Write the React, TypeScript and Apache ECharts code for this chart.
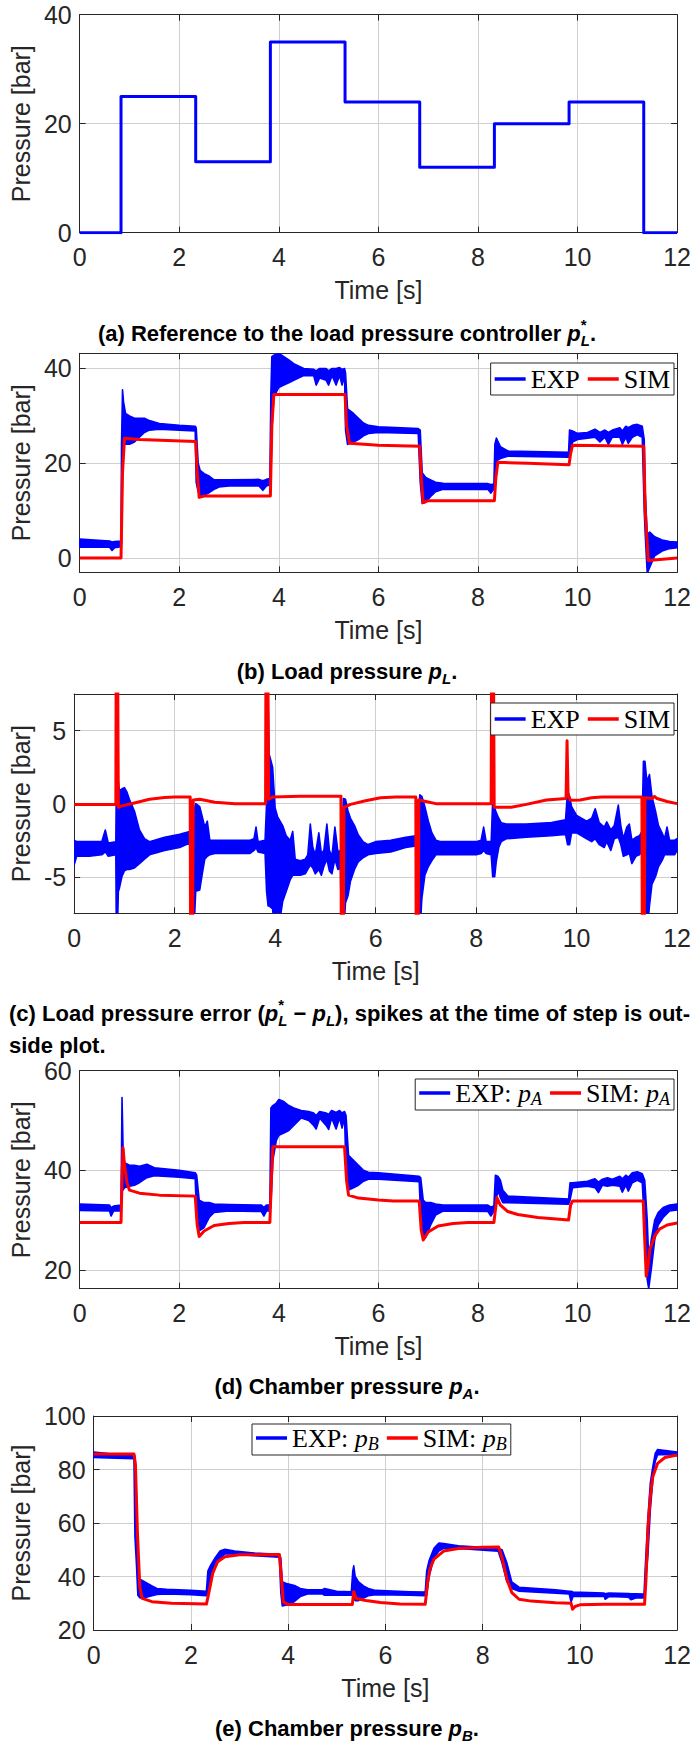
import React, { useEffect, useRef } from "react";
import * as echarts from "echarts";

const BLUE = "#0000ff";
const RED = "#ff0000";
const TXT = "#262626";
const GRIDC = "#cfcfcf";
const FONT = "'Liberation Sans', Arial, sans-serif";
const SERIF = "'Liberation Serif', 'Times New Roman', serif";

// ---------- axis ticks ----------
const timeTicks = [0, 2, 4, 6, 8, 10, 12];
const yTicksA = [0, 20, 40];
const yTicksB = [0, 20, 40];
const yTicksC = [-5, 0, 5];
const yTicksD = [20, 40, 60];
const yTicksE = [20, 40, 60, 80, 100];

// ---------- (a) reference ----------
const refT = [0, 0.83, 2.33, 3.83, 5.33, 6.83, 8.33, 9.83, 11.33, 12];
const refV = [0, 25, 13, 35, 24, 12, 20, 24, 0, 0];

// ---------- (b) load pressure ----------
const simBT = [0, 0.83, 0.86, 0.9, 1.2, 2.33, 2.36, 2.4, 2.5, 3.83, 3.86, 3.9, 5.33, 5.36, 5.42, 6.0, 6.83, 6.86, 6.9, 7.0, 8.33, 8.36, 8.4, 9.0, 9.83, 9.86, 9.9, 11.33, 11.36, 11.42, 12];
const simBV = [0, 0, 18, 25.3, 25.0, 24.6, 18, 12.8, 13.1, 13.1, 28, 34.5, 34.5, 28, 24.2, 23.8, 23.6, 17, 11.7, 12.1, 12.1, 17, 20.2, 20.0, 19.7, 22, 23.8, 23.6, 10, -0.5, 0];
const expBT = [0, 0.6, 0.65, 0.7, 0.83, 0.84, 0.86, 0.88, 0.92, 1.0, 1.1, 1.2, 1.3, 1.4, 1.6, 2.0, 2.32, 2.34, 2.38, 2.42, 2.5, 2.6, 2.7, 2.8, 3.0, 3.6, 3.68, 3.75, 3.82, 3.84, 3.86, 3.9, 4.0, 4.1, 4.2, 4.3, 4.5, 4.7, 4.75, 4.82, 4.95, 5.0, 5.07, 5.15, 5.22, 5.27, 5.32, 5.34, 5.38, 5.5, 5.6, 5.7, 5.8, 6.0, 6.8, 6.84, 6.88, 6.95, 7.05, 7.15, 7.3, 8.2, 8.26, 8.32, 8.34, 8.37, 8.45, 8.6, 9.82, 9.84, 9.9, 10.0, 10.2, 10.35, 10.45, 10.55, 10.62, 10.7, 10.85, 10.9, 10.97, 11.02, 11.1, 11.2, 11.3, 11.34, 11.36, 11.4, 11.45, 11.55, 11.7, 11.85, 12];
const expBLo = [2.3, 2.3, 1.6, 2.2, 2.4, 3.0, 24, 24, 24, 24, 24.5, 25.5, 26.5, 27, 27.2, 27, 26.8, 16, 14, 13, 13.3, 13.8, 14.5, 15, 15.2, 15.2, 14.3, 15.2, 15.4, 16, 27, 34, 36, 36.5, 37, 37.5, 38.5, 38.5, 36.5, 38, 37.5, 36.5, 38.5, 36.5, 38.5, 36.5, 38.5, 27, 24, 24.5, 25, 25.8, 26.3, 26.5, 26.3, 16, 11.5, 11.8, 13, 14, 14.5, 14.5, 13.7, 14.6, 16, 20.5, 21, 21.5, 21.3, 22, 24.5, 25, 25.3, 25.5, 24.5, 25.5, 24, 25.5, 25.5, 24, 25.5, 24.2, 25.5, 26, 25.5, 10, 5, -3.2, -2, 0.5, 1.5, 2, 2.2];
const expBHi = [4.0, 3.6, 3.4, 3.5, 3.6, 24, 35.5, 33, 30.5, 30, 29.5, 29.5, 29.5, 29, 28.4, 28, 27.8, 27.5, 20, 18.5, 17.8, 17.3, 16.5, 16.5, 16.5, 16.6, 16.3, 16.6, 16.8, 35, 42.5, 42.8, 43.2, 42.5, 41.8, 41, 40, 39.8, 39.5, 40, 40, 39.5, 40, 40, 40.2, 39.8, 40, 39, 31.5, 30.5, 29.5, 28.5, 28, 27.7, 27.3, 27, 18, 17, 16.5, 16, 15.8, 15.7, 15.5, 15.6, 24, 25.3, 23.5, 22.6, 22.3, 27, 26.8, 26.3, 26.5, 27.2, 26.5, 27, 26.5, 27, 27.5, 26.8, 27.8, 27.5, 28, 28.2, 27.8, 25, 13.8, 5, 5.5, 4.5, 3.8, 3.5, 3.4];

// ---------- (c) load pressure error ----------
const simCT = [0, 0.83, 0.84, 0.86, 0.88, 0.95, 1.2, 1.5, 1.8, 2.0, 2.31, 2.32, 2.35, 2.37, 2.5, 2.8, 3.2, 3.81, 3.82, 3.85, 3.87, 3.95, 4.5, 5.31, 5.32, 5.35, 5.37, 5.5, 5.8, 6.1, 6.4, 6.8, 6.81, 6.84, 6.86, 7.0, 7.2, 8.3, 8.31, 8.34, 8.36, 8.7, 9.0, 9.4, 9.79, 9.81, 9.83, 9.88, 10.07, 10.3, 10.5, 11.3, 11.31, 11.34, 11.36, 11.5, 11.55, 11.6, 11.8, 12];
const simCV = [-0.05, -0.05, 14, 14, -0.25, -0.15, 0.05, 0.3, 0.42, 0.45, 0.45, -14, -14, 0.25, 0.3, 0.1, 0, 0, 14, 14, 0.3, 0.45, 0.5, 0.5, -14, -14, -0.25, -0.05, 0.2, 0.4, 0.45, 0.45, -14, -14, 0.25, 0.15, 0, 0, 14, 14, -0.25, -0.25, -0.05, 0.25, 0.35, 4.3, 0.6, 0.23, 0.25, 0.4, 0.45, 0.45, -14, -14, 0.4, 0.35, 0.5, 0.35, 0.15, 0];
const expCT = [0, 0.05, 0.3, 0.55, 0.62, 0.68, 0.83, 0.84, 0.86, 0.88, 0.9, 0.95, 1.0, 1.05, 1.1, 1.2, 1.3, 1.4, 1.5, 1.8, 2.1, 2.3, 2.32, 2.38, 2.42, 2.5, 2.55, 2.6, 2.65, 2.7, 2.8, 3.5, 3.58, 3.62, 3.66, 3.8, 3.83, 3.86, 3.88, 3.95, 4.0, 4.05, 4.15, 4.22, 4.3, 4.35, 4.4, 4.5, 4.6, 4.65, 4.7, 4.75, 4.8, 4.87, 4.92, 4.97, 5.03, 5.08, 5.13, 5.19, 5.25, 5.3, 5.32, 5.36, 5.4, 5.45, 5.5, 5.58, 5.65, 5.75, 5.85, 6.0, 6.3, 6.6, 6.8, 6.82, 6.88, 6.92, 6.98, 7.05, 7.12, 7.2, 7.3, 8.0, 8.1, 8.15, 8.2, 8.3, 8.33, 8.37, 8.4, 8.45, 8.5, 8.6, 9.0, 9.5, 9.78, 9.82, 9.86, 9.9, 10.0, 10.2, 10.3, 10.37, 10.45, 10.55, 10.6, 10.68, 10.75, 10.83, 10.88, 10.93, 11.0, 11.05, 11.1, 11.18, 11.25, 11.3, 11.33, 11.36, 11.4, 11.45, 11.5, 11.57, 11.63, 11.7, 11.75, 11.8, 11.85, 11.95, 12];
const expCLo = [-4.2, -3.6, -3.6, -3.5, -3.3, -3.6, -3.5, -9, -9, -6, -5.8, -5, -4.6, -4.5, -4.5, -4.4, -4.1, -3.8, -3.5, -3.2, -3.0, -2.7, -9, -9, -6, -5.9, -4.8, -3.8, -3.6, -3.5, -3.4, -3.4, -3.2, -3.0, -3.3, -3.4, -6, -7, -7, -7.2, -9, -9, -6.7, -6, -5.2, -4.9, -4.9, -4.9, -4.8, -4.5, -4.2, -4.4, -4.8, -4.5, -4.9, -4.3, -3.8, -4.6, -4.8, -3.8, -4.5, -4.4, -9, -9, -6.8, -6.3, -5.3, -4.5, -4.0, -3.7, -3.5, -3.4, -3.3, -3.0, -2.9, -9, -9, -6.5, -4.9, -4.3, -3.9, -3.5, -3.5, -3.5, -3.4, -3.2, -3.4, -3.5, -5.0, -5.0, -4.0, -3.0, -2.6, -2.4, -2.3, -2.2, -2.1, -2.8, -2.8, -2.0, -2.0, -2.4, -2.6, -2.4, -2.8, -3.0, -2.6, -3.2, -2.4, -2.3, -2.8, -3.6, -3.5, -3.4, -4.1, -3.6, -3.5, -3.3, -4, -9, -9, -7, -5.5, -5, -4.3, -3.9, -3.5, -3.5, -3.5, -3.5, -3.2];
const expCHi = [-2.5, -2.6, -2.6, -2.6, -1.8, -2.7, -2.6, 1.5, 2.95, 1.5, 0.9, 1.0, 1.1, 0.8, 0.3, -0.5, -1.8, -2.4, -2.6, -2.3, -2.1, -1.9, -1.9, -0.5, 0, -0.2, -0.9, -1.6, -1.2, -2.5, -2.5, -2.5, -2.4, -1.6, -2.6, -2.5, 0, 7.3, 3.4, 2.5, -0.3, -0.9, -1.5, -2.2, -2.5, -1.9, -3.8, -3.9, -3.8, -3.5, -1.4, -3.0, -3.5, -2.0, -3.4, -3.2, -1.4, -3.2, -3.6, -1.6, -3.3, -3.2, -3, 0.35, 0.3, -0.5, -1.0, -1.5, -2.1, -2.6, -2.8, -2.6, -2.5, -2.3, -2.2, -2.2, 0.6, 0.5, -0.2, -1.2, -2.0, -2.5, -2.6, -2.6, -2.5, -1.6, -2.6, -2.6, 0.2, -0.3, -0.6, -1.0, -1.3, -1.4, -1.4, -1.3, -1.1, 0.9, 0.5, -0.2, -0.8, -1.2, -1.0, -0.35, -1.3, -1.6, -1.25, -1.8, -1.5, -0.1, -1.5, -2.4, -1.6, -1.4, -2.5, -2.3, -2.2, -1.9, 2.9, 2.9, 1.5, 2, 0.5, -0.5, -1.5, -2, -2.4, -1.6, -2.5, -2.5, -2.4];

// ---------- (d) chamber pressure pA ----------
const simDT = [0, 0.83, 0.85, 0.87, 0.9, 0.95, 1.0, 1.2, 1.6, 2.32, 2.36, 2.4, 2.5, 2.7, 3.0, 3.3, 3.82, 3.85, 3.88, 5.32, 5.36, 5.4, 5.6, 6.0, 6.3, 6.82, 6.86, 6.9, 7.0, 7.2, 7.5, 7.8, 8.32, 8.35, 8.38, 8.45, 8.6, 8.8, 9.2, 9.82, 9.86, 9.9, 11.32, 11.35, 11.38, 11.42, 11.45, 11.55, 11.65, 11.8, 12];
const simDV = [29.5, 29.5, 38, 44.5, 41, 37.5, 36, 35.4, 35.0, 34.8, 29, 26.7, 27.8, 28.9, 29.3, 29.5, 29.5, 38, 44.7, 44.7, 38, 35, 34.4, 34, 33.8, 33.8, 28, 26, 27.6, 28.8, 29.3, 29.5, 29.5, 32, 34.5, 33, 31.7, 31.1, 30.5, 30, 33, 33.8, 33.8, 26, 18.7, 21, 24, 26.8, 28.2, 29, 29.4];
const expDT = [0, 0.6, 0.63, 0.68, 0.83, 0.85, 0.87, 0.9, 1.0, 1.1, 1.2, 1.35, 1.5, 2.0, 2.32, 2.35, 2.4, 2.5, 2.6, 2.7, 3.0, 3.65, 3.7, 3.75, 3.82, 3.84, 3.88, 3.95, 4.0, 4.1, 4.2, 4.3, 4.45, 4.6, 4.7, 4.75, 4.82, 4.95, 5.0, 5.06, 5.15, 5.22, 5.27, 5.32, 5.35, 5.4, 5.5, 5.6, 5.7, 5.8, 6.0, 6.82, 6.85, 6.9, 6.95, 7.05, 7.15, 7.3, 8.2, 8.26, 8.32, 8.35, 8.4, 8.45, 8.5, 8.6, 9.82, 9.85, 9.9, 10.2, 10.35, 10.42, 10.5, 10.6, 10.7, 10.85, 10.9, 10.97, 11.02, 11.1, 11.2, 11.3, 11.35, 11.4, 11.43, 11.48, 11.55, 11.62, 11.72, 11.85, 12];
const expDLo = [31.9, 31.8, 30.8, 31.8, 31.8, 36, 36, 36.5, 36.8, 37, 37.5, 38.5, 38.9, 38.6, 38.3, 30, 27.8, 28.5, 30.5, 31.5, 31.8, 31.7, 30.8, 31.8, 31.8, 33, 42, 46, 47, 47.5, 48, 49, 50.5, 50, 49, 48.3, 50.5, 49, 48.2, 50.5, 48.3, 50.5, 48.5, 50.5, 40, 36, 36.5, 37, 37.8, 38.2, 38.2, 37.7, 30, 26, 26.5, 29, 31, 31.8, 31.7, 30.8, 31.8, 33, 36, 34.5, 33.5, 33.5, 33.2, 34, 36.5, 36.8, 36.5, 35.5, 37, 36.8, 37, 36.8, 35.6, 37, 35.8, 37.5, 38, 37.5, 28, 18, 16.2, 20, 26, 29, 30.5, 31.8, 32];
const expDHi = [33.2, 33.0, 32.5, 32.8, 33, 54.6, 45, 41.5, 41, 41, 40.8, 41.2, 40.5, 40, 39.5, 39, 34, 33.5, 33.5, 33.2, 33.1, 33, 32.5, 33, 33, 52.5, 53, 53.5, 54.2, 53.8, 53, 52.5, 52, 51.8, 51.5, 51, 51.8, 51.5, 51.2, 52, 51.6, 52, 51.5, 51.8, 51, 43, 42, 41, 40, 39.6, 39.5, 38.8, 38.5, 34, 33.5, 33.5, 33.2, 33, 33, 32.6, 32.8, 39, 38.8, 38, 36, 34.8, 34.2, 37.5, 37.5, 37.8, 38.3, 37.6, 38.2, 38.5, 38.2, 38.8, 38.3, 39, 38.6, 39.5, 39.7, 39.3, 38, 30, 22, 26, 30, 31.5, 32.5, 33, 33.2];

// ---------- (e) chamber pressure pB ----------
const simET = [0, 0.83, 0.86, 0.9, 0.95, 1.0, 1.2, 1.6, 2.32, 2.36, 2.45, 2.55, 2.7, 3.0, 3.82, 3.86, 3.9, 4.0, 5.32, 5.35, 5.4, 5.6, 5.9, 6.3, 6.82, 6.87, 6.92, 7.0, 7.2, 7.5, 8.0, 8.33, 8.4, 8.5, 8.6, 8.75, 9.0, 9.5, 9.82, 9.85, 9.9, 10.0, 10.5, 11.33, 11.36, 11.4, 11.45, 11.5, 11.6, 11.75, 12];
const simEV = [85.8, 85.8, 82, 57, 36, 31.8, 30.6, 30.0, 29.7, 33, 41.2, 45.5, 47.4, 48.1, 48.2, 40, 30.5, 29.5, 29.5, 34.3, 31.8, 31.0, 30.3, 29.7, 29.6, 38, 43, 46.5, 49.5, 50.5, 50.9, 51, 47, 39, 34, 31.5, 30.8, 30.2, 30, 27.8, 28.8, 29.4, 29.6, 29.6, 38.7, 58, 70, 77.3, 82.3, 84.5, 85.4];
const expET = [0, 0.3, 0.83, 0.85, 0.88, 0.91, 0.95, 1.0, 1.1, 1.2, 1.3, 1.5, 2.0, 2.32, 2.35, 2.4, 2.5, 2.6, 2.7, 2.9, 3.3, 3.82, 3.85, 3.88, 3.95, 4.05, 4.15, 4.25, 4.4, 4.7, 4.75, 5.0, 5.3, 5.33, 5.35, 5.38, 5.45, 5.55, 5.65, 5.8, 6.5, 6.82, 6.85, 6.9, 7.0, 7.1, 7.2, 7.5, 8.32, 8.4, 8.5, 8.6, 8.75, 9.5, 9.78, 9.82, 9.86, 10.5, 10.52, 10.6, 11.0, 11.05, 11.15, 11.32, 11.35, 11.4, 11.45, 11.5, 11.55, 11.6, 11.8, 12];
const expELo = [84.5, 84.3, 84, 55, 45, 33, 32, 32, 32.3, 32.8, 33.3, 33.5, 33.2, 32.8, 33, 39, 44, 46.5, 48.5, 48.3, 47.8, 47.2, 34, 29, 29.3, 29.5, 31, 32.5, 33.5, 33.5, 33, 33, 33, 33, 32, 31, 31, 32, 32.8, 33.2, 33, 32.8, 33, 40, 47, 49.5, 50.5, 50.5, 49.5, 45, 38, 35.5, 34.5, 33.8, 33.5, 30.5, 32.5, 32.5, 31.5, 32.5, 32.3, 31.3, 32, 32, 38, 48, 65, 76, 83, 85.5, 85.5, 85.2];
const expEHi = [86.5, 86, 85.5, 85, 70, 45, 39, 38.5, 37.5, 36.5, 35.5, 35.2, 34.8, 34.5, 42, 44, 47, 49.5, 50.2, 49.5, 48.8, 48.3, 47, 38, 37.5, 37, 36.5, 35.5, 35, 35, 35.5, 34.5, 34.3, 42, 44, 40, 38, 36.5, 35.5, 34.8, 34.3, 34.2, 42, 46, 50.5, 52.5, 52.3, 51.5, 50.5, 50, 45, 38, 36, 35, 34.5, 34.5, 34.2, 33.8, 33.5, 33.8, 33.6, 33.5, 33.5, 33.4, 45, 62, 75, 81, 86, 87.5, 87, 86.5];

// ---------- captions ----------
type Seg = { t: string; it?: boolean; sub?: boolean; sup?: boolean; stack?: boolean };
const capA: Seg[] = [{ t: "(a) Reference to the load pressure controller " }, { t: "p", it: true }, { t: "*", sup: true, stack: true }, { t: "L", it: true, sub: true }, { t: "." }];
const capB: Seg[] = [{ t: "(b) Load pressure " }, { t: "p", it: true }, { t: "L", it: true, sub: true }, { t: "." }];
const capC1: Seg[] = [{ t: "(c) Load pressure error (" }, { t: "p", it: true }, { t: "*", sup: true, stack: true }, { t: "L", it: true, sub: true }, { t: " − " }, { t: "p", it: true }, { t: "L", it: true, sub: true }, { t: "), spikes at the time of step is out-" }];
const capC2: Seg[] = [{ t: "side plot." }];
const capD: Seg[] = [{ t: "(d) Chamber pressure " }, { t: "p", it: true }, { t: "A", it: true, sub: true }, { t: "." }];
const capE: Seg[] = [{ t: "(e) Chamber pressure " }, { t: "p", it: true }, { t: "B", it: true, sub: true }, { t: "." }];

// ---------- layout ----------
const PANELS = [
  { top: 14.7, bottom: 232.7, left: 72.4, ymin: 0, ymax: 40, ticks: yTicksA },
  { top: 353.3, bottom: 572.3, left: 72.4, ymin: -3, ymax: 43.2, ticks: yTicksB },
  { top: 694, bottom: 913.3, left: 67.6, ymin: -7.5, ymax: 7.5, ticks: yTicksC },
  { top: 1070.7, bottom: 1288.7, left: 72.4, ymin: 16.2, ymax: 60, ticks: yTicksD },
  { top: 1416, bottom: 1630, left: 84.4, ymin: 20, ymax: 100, ticks: yTicksE },
];
const PLOT_RIGHT = 682;
const CAP_SIZE = 22;
const SCR_SIZE = 15;
const AX_FONT = 25;

function zip(t: number[], v: number[]) {
  return t.map((x, i) => [x, v[i]]);
}

function bandSeries(name: string, idx: number, t: number[], lo: number[], hi: number[]) {
  return {
    type: "custom",
    name,
    xAxisIndex: idx * 2,
    yAxisIndex: idx * 2,
    clip: true,
    z: 2,
    silent: true,
    itemStyle: { color: BLUE },
    data: t.map((x, i) => [x, lo[i], hi[i]]),
    encode: { x: 0, y: [1, 2] },
    renderItem: (params: any, api: any) => {
      if (params.dataIndex !== 0) return null;
      const pts: number[][] = [];
      for (let i = 0; i < t.length; i++) pts.push(api.coord([t[i], hi[i]]));
      for (let i = t.length - 1; i >= 0; i--) pts.push(api.coord([t[i], lo[i]]));
      return {
        type: "polygon",
        shape: { points: pts },
        style: { fill: BLUE, stroke: BLUE, lineWidth: 1.6, lineJoin: "round" },
      };
    },
  };
}

function lineSeries(name: string, idx: number, data: number[][], color: string, extra: any = {}) {
  return {
    type: "line",
    name,
    xAxisIndex: idx * 2,
    yAxisIndex: idx * 2,
    data,
    showSymbol: false,
    symbol: "none",
    clip: true,
    z: 3,
    silent: true,
    lineStyle: { color, width: 3, join: "round" },
    itemStyle: { color },
    emphasis: { disabled: true },
    ...extra,
  };
}

function buildCaption(segs: Seg[], cy: number, mode: "center" | "left" | "justify", left: number, right: number) {
  const ctx = document.createElement("canvas").getContext("2d") as CanvasRenderingContext2D;
  const fontOf = (size: number, it: boolean) => `${it ? "italic " : ""}bold ${size}px "Liberation Sans"`;
  const pieces: any[] = [];
  for (const s of segs) {
    const size = s.sub || s.sup ? SCR_SIZE : CAP_SIZE;
    const dy = s.sub ? 7 : s.sup ? -9 : 0;
    const parts = mode === "justify" && !s.sub && !s.sup ? s.t.split(/( )/).filter((p) => p !== "") : [s.t];
    for (const p of parts) {
      ctx.font = fontOf(size, !!s.it);
      const w = ctx.measureText(p).width;
      pieces.push({ text: p, size, it: !!s.it, dy, adv: s.stack ? 0 : w, space: mode === "justify" && p === " " });
    }
  }
  const natural = pieces.reduce((a, p) => a + p.adv, 0);
  const nSpace = pieces.filter((p) => p.space).length;
  const extra = mode === "justify" && nSpace ? (right - left - natural) / nSpace : 0;
  let x = mode === "center" ? (left + right) / 2 - natural / 2 : left;
  const els: any[] = [];
  for (const p of pieces) {
    if (!p.space) {
      els.push({
        type: "text",
        x,
        y: cy + p.dy,
        silent: true,
        style: {
          text: p.text,
          fontFamily: "Liberation Sans",
          fontSize: p.size,
          fontWeight: "bold",
          fontStyle: p.it ? "italic" : "normal",
          fill: "#000",
          align: "left",
          verticalAlign: "middle",
          textAlign: "left",
          textVerticalAlign: "middle",
        },
      });
    }
    x += p.adv + (p.space ? extra : 0);
  }
  return els;
}

function buildOption() {
  const grid = PANELS.map((p) => ({ left: p.left, top: p.top, width: PLOT_RIGHT - p.left, height: p.bottom - p.top, show: false }));
  const axisLine = { show: true, onZero: false, lineStyle: { color: TXT, width: 1 } };
  const tickStyle = { inside: true, length: 6, lineStyle: { color: TXT, width: 1 } };
  const labelStyle = { fontSize: AX_FONT, fontFamily: FONT, color: TXT };
  const xAxis: any[] = [];
  const yAxis: any[] = [];
  PANELS.forEach((p, i) => {
    xAxis.push({
      type: "value", gridIndex: i, min: 0, max: 12, interval: 2, position: "bottom",
      name: "Time [s]", nameLocation: "middle", nameGap: 45,
      nameTextStyle: { fontSize: AX_FONT, fontFamily: FONT, color: TXT },
      axisLine, axisTick: { ...tickStyle, customValues: timeTicks },
      axisLabel: { ...labelStyle, margin: 12, customValues: timeTicks },
      splitLine: { show: true, lineStyle: { color: GRIDC, width: 1 } },
    });
    xAxis.push({
      type: "value", gridIndex: i, min: 0, max: 12, interval: 2, position: "top",
      axisLine, axisTick: { ...tickStyle, customValues: timeTicks }, axisLabel: { show: false }, splitLine: { show: false },
    });
    const yBase: any = { type: "value", gridIndex: i, min: p.ymin, max: p.ymax };
    if (p.ymin % 20 === 0) yBase.interval = 20;
    yAxis.push({
      ...yBase, position: "left",
      name: "Pressure [bar]", nameLocation: "middle", nameGap: p.left - 20 - 12.5,
      nameTextStyle: { fontSize: AX_FONT, fontFamily: FONT, color: TXT },
      axisLine, axisTick: { ...tickStyle, customValues: p.ticks },
      axisLabel: { ...labelStyle, margin: 8, customValues: p.ticks },
      splitLine: { show: true, lineStyle: { color: GRIDC, width: 1 } },
    });
    yAxis.push({
      ...yBase, position: "right",
      axisLine, axisTick: { ...tickStyle, customValues: p.ticks }, axisLabel: { show: false }, splitLine: { show: false },
    });
  });

  const series: any[] = [
    lineSeries("Reference", 0, zip(refT, refV), BLUE, { step: "end" }),
    bandSeries("EXP", 1, expBT, expBLo, expBHi),
    lineSeries("SIM", 1, zip(simBT, simBV), RED),
    bandSeries("EXP", 2, expCT, expCLo, expCHi),
    lineSeries("SIM", 2, zip(simCT, simCV), RED),
    bandSeries("EXP: pA", 3, expDT, expDLo, expDHi),
    lineSeries("SIM: pA", 3, zip(simDT, simDV), RED),
    bandSeries("EXP: pB", 4, expET, expELo, expEHi),
    lineSeries("SIM: pB", 4, zip(simET, simEV), RED),
  ];

  const legendBase: any = {
    orient: "horizontal", icon: "rect", itemWidth: 31, itemHeight: 3.5, itemGap: 8,
    backgroundColor: "#fff", borderColor: TXT, borderWidth: 1, borderRadius: 0,
    padding: [3, 4, 3, 4], selectedMode: false,
    textStyle: { fontFamily: SERIF, fontSize: 26, color: "#000" },
  };
  const richText = {
    n: { fontFamily: SERIF, fontSize: 26, lineHeight: 30, color: "#000" },
    i: { fontFamily: SERIF, fontSize: 26, lineHeight: 30, fontStyle: "italic", color: "#000" },
    s: { fontFamily: SERIF, fontSize: 18, lineHeight: 18, fontStyle: "italic", color: "#000", verticalAlign: "bottom" },
  };
  const mathFmt = (name: string) => {
    const [lbl, v] = name.split(": ");
    return `{n|${lbl}: }{i|p}{s|${v.slice(1)}}`;
  };
  const legend = [
    { ...legendBase, right: 20, top: 363, data: [{ name: "EXP", itemStyle: { color: BLUE } }, { name: "SIM", itemStyle: { color: RED } }] },
    { ...legendBase, right: 20, top: 703, data: [{ name: "EXP", itemStyle: { color: BLUE } }, { name: "SIM", itemStyle: { color: RED } }] },
    {
      ...legendBase, right: 20, top: 1079, padding: [1, 4, 2, 4],
      formatter: mathFmt, textStyle: { ...legendBase.textStyle, rich: richText },
      data: [{ name: "EXP: pA", itemStyle: { color: BLUE } }, { name: "SIM: pA", itemStyle: { color: RED } }],
    },
    {
      ...legendBase, left: 252, top: 1424, padding: [1, 4, 2, 4],
      formatter: mathFmt, textStyle: { ...legendBase.textStyle, rich: richText },
      data: [{ name: "EXP: pB", itemStyle: { color: BLUE } }, { name: "SIM: pB", itemStyle: { color: RED } }],
    },
  ];

  const graphic = [
    ...buildCaption(capA, 333, "center", 0, 694),
    ...buildCaption(capB, 671, "center", 0, 694),
    ...buildCaption(capC1, 1013, "justify", 9, 690),
    ...buildCaption(capC2, 1045, "left", 9, 690),
    ...buildCaption(capD, 1386, "center", 0, 694),
    ...buildCaption(capE, 1728, "center", 0, 694),
  ];

  return {
    animation: false,
    backgroundColor: "#fff",
    grid,
    xAxis,
    yAxis,
    series,
    legend,
    graphic,
  };
}

export default function App() {
  const ref = useRef<HTMLDivElement>(null);
  useEffect(() => {
    document.body.style.margin = "0";
    const chart = echarts.init(ref.current as HTMLDivElement, undefined, { renderer: "svg" });
    chart.setOption(buildOption() as any);
    return () => chart.dispose();
  }, []);
  return <div ref={ref} style={{ width: 694, height: 1743 }} />;
}
